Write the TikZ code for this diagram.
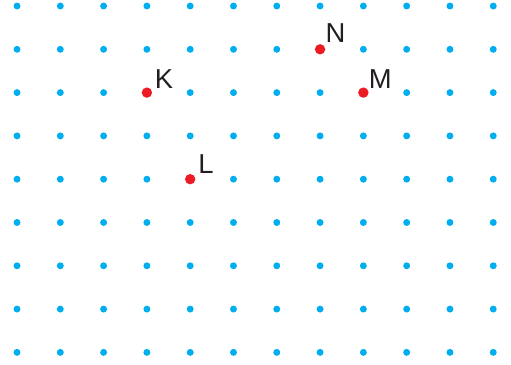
\documentclass[tikz,border=0pt]{standalone}
\usepackage{fontspec}
\setmainfont{Liberation Sans}
\usepackage{tikz}
\usetikzlibrary{calc,positioning}
\definecolor{gridblue}{HTML}{00AEEF}
\definecolor{pointred}{HTML}{ED1C24}
\definecolor{ink}{HTML}{231F20}
\tikzset{
  griddot/.style={circle, fill=gridblue, inner sep=0pt, minimum size=1.6mm},
  markdot/.style={circle, fill=pointred, inner sep=0pt, minimum size=2.4mm},
  ptlabel/.style={font=\fontsize{18}{18}\selectfont, text=ink, inner sep=0pt, anchor=base west}
}
\begin{document}
\begin{tikzpicture}
  \useasboundingbox (-0.393,0.139) rectangle (11.41,-8.29);
  \foreach \i in {0,...,11}
    \foreach \j in {0,...,8}
      \node[griddot] (p-\i-\j) at (\i,-\j) {};
  % marked points
  \node[markdot] (K) at (p-3-2) {};
  \node[markdot] (N) at (p-7-1) {};
  \node[markdot] (M) at (p-8-2) {};
  \node[markdot] (L) at (p-4-4) {};
  \node[ptlabel] (K-lab) at ($(K)+(0.18,0.09)$) {K};
  \node[ptlabel] (N-lab) at ($(N)+(0.12,0.16)$) {N};
  \node[ptlabel] (M-lab) at ($(M)+(0.12,0.09)$) {M};
  \node[ptlabel] (L-lab) at ($(L)+(0.18,0.12)$) {L};
\end{tikzpicture}
\end{document}
